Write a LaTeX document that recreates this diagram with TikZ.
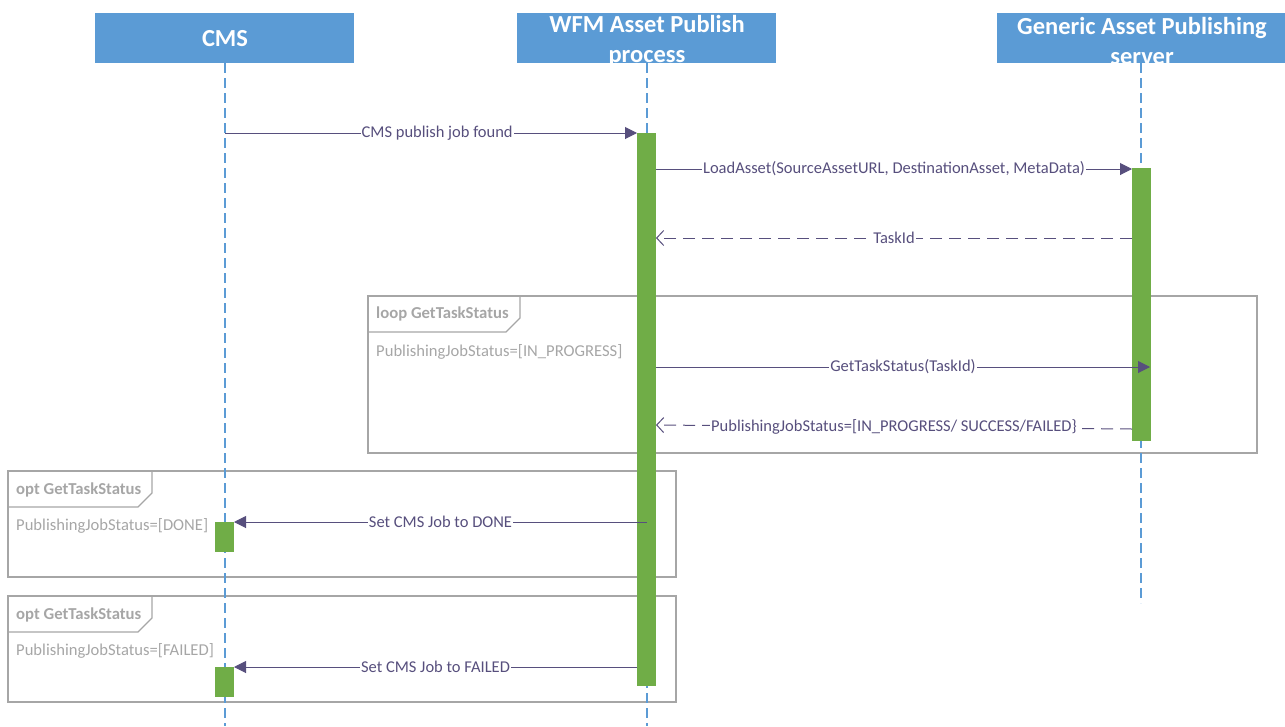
\documentclass[tikz,border=0pt]{standalone}
\usepackage{fontspec}
\setmainfont{Carlito}
\usetikzlibrary{arrows.meta}
\definecolor{hdr}{HTML}{5B9BD5}
\definecolor{act}{HTML}{70AD47}
\definecolor{msg}{HTML}{574F7D}
\definecolor{frm}{HTML}{A6A6A6}
\begin{document}
\begin{tikzpicture}[x=1pt,y=-1pt,
  hdrbox/.style={fill=hdr,draw=none,minimum height=50pt,inner sep=0pt,anchor=north west},
  hdrtext/.style={text=white,font=\fontsize{24.5}{30}\selectfont\bfseries,align=center,inner sep=0pt},
  lifeline/.style={draw=hdr,line width=1.1pt,dash pattern=on 10pt off 5pt},
  actbar/.style={fill=act,draw=none,minimum width=19pt,inner sep=0pt,anchor=north west},
  call/.style={draw=msg,line width=1pt,-{Triangle[length=12pt,width=12pt]}},
  reply/.style={draw=msg,line width=1pt,dash pattern=on 12pt off 7pt,-{Straight Barb[length=7pt,width=15pt,line width=1pt]}},
  mlabel/.style={fill=white,text=msg,font=\fontsize{16.5}{18}\selectfont,inner sep=1pt},
  frame/.style={draw=frm,line width=1.2pt},
  tablabel/.style={text=frm,font=\fontsize{16.7}{18}\selectfont\bfseries,anchor=west,inner sep=0pt},
  condlabel/.style={text=frm,font=\fontsize{16.6}{18}\selectfont,anchor=west,inner sep=0pt}]
\useasboundingbox (0,0) rectangle (1285,726);

% frames
\draw[frame] (368,296) rectangle (1257,453);
\draw[frame] (368,332) -- (506,332) -- (520,318) -- (520,296);
\node[tablabel] (loopT) at (376,314) {loop GetTaskStatus};
\node[condlabel] (loopC) at (376,352) {PublishingJobStatus=[IN\_PROGRESS]};

\draw[frame] (8,471) rectangle (676,577);
\draw[frame] (8,507) -- (138,507) -- (152,493) -- (152,471);
\node[tablabel] (opt1T) at (16,490) {opt GetTaskStatus};
\node[condlabel] (opt1C) at (16,526) {PublishingJobStatus=[DONE]};

\draw[frame] (8,596) rectangle (676,702);
\draw[frame] (8,632) -- (138,632) -- (152,618) -- (152,596);
\node[tablabel] (opt2T) at (16,615) {opt GetTaskStatus};
\node[condlabel] (opt2C) at (16,651) {PublishingJobStatus=[FAILED]};

% headers
\node[hdrbox,minimum width=259pt] (cmsH) at (95,13) {};
\node[hdrbox,minimum width=259pt] (wfmH) at (517,13) {};
\node[hdrbox,minimum width=290pt] (genH) at (997,13) {};
\node[hdrtext] (cmsT) at (225,39) {CMS};
\node[hdrtext] (wfmT) at (647,40.5) {WFM Asset Publish\\process};
\node[hdrtext] (genT) at (1142,40.5) {Generic Asset Publishing\\server};

% lifelines
\coordinate (cmsS) at (225,63); \coordinate (cmsE) at (225,726);
\coordinate (wfmS) at (647,63); \coordinate (wfmE) at (647,726);
\coordinate (genS) at (1141,63); \coordinate (genE) at (1141,603);
\draw[lifeline] (cmsS) -- (cmsE);
\draw[lifeline] (wfmS) -- (wfmE);
\draw[lifeline] (genS) -- (genE);

% activation bars
\node[actbar,minimum height=553pt] (wfmA) at (637,133) {};
\node[actbar,minimum height=273pt] (genA) at (1132,168) {};
\node[actbar,minimum height=30pt] (cmsA1) at (215,522) {};
\node[actbar,minimum height=30pt] (cmsA2) at (215,667) {};

% message endpoints
\coordinate (m1s) at (225,133); \coordinate (m1e) at (637,133);
\coordinate (m2s) at (656,169); \coordinate (m2e) at (1132,169);
\coordinate (m3s) at (1132,238); \coordinate (m3e) at (656,238);
\coordinate (m4s) at (656,367); \coordinate (m4e) at (1150,367);
\coordinate (m5s) at (1132,429); \coordinate (m5e) at (656,425);
\coordinate (m6s) at (647,522); \coordinate (m6e) at (234,522);
\coordinate (m7s) at (637,667); \coordinate (m7e) at (234,667);

\draw[call] (m1s) -- node[mlabel,pos=0.515] {CMS publish job found} (m1e);
\draw[call] (m2s) -- node[mlabel] {LoadAsset(SourceAssetURL, DestinationAsset, MetaData)} (m2e);
\draw[reply] (m3s) -- node[mlabel] {TaskId} (m3e);
\draw[call] (m4s) -- node[mlabel] {GetTaskStatus(TaskId)} (m4e);
\draw[reply] (m5s) -- node[mlabel,pos=0.5] {PublishingJobStatus=[IN\_PROGRESS/ SUCCESS/FAILED\}} (m5e);
\draw[call] (m6s) -- node[mlabel] {Set CMS Job to DONE} (m6e);
\draw[call] (m7s) -- node[mlabel] {Set CMS Job to FAILED} (m7e);
\end{tikzpicture}
\end{document}
